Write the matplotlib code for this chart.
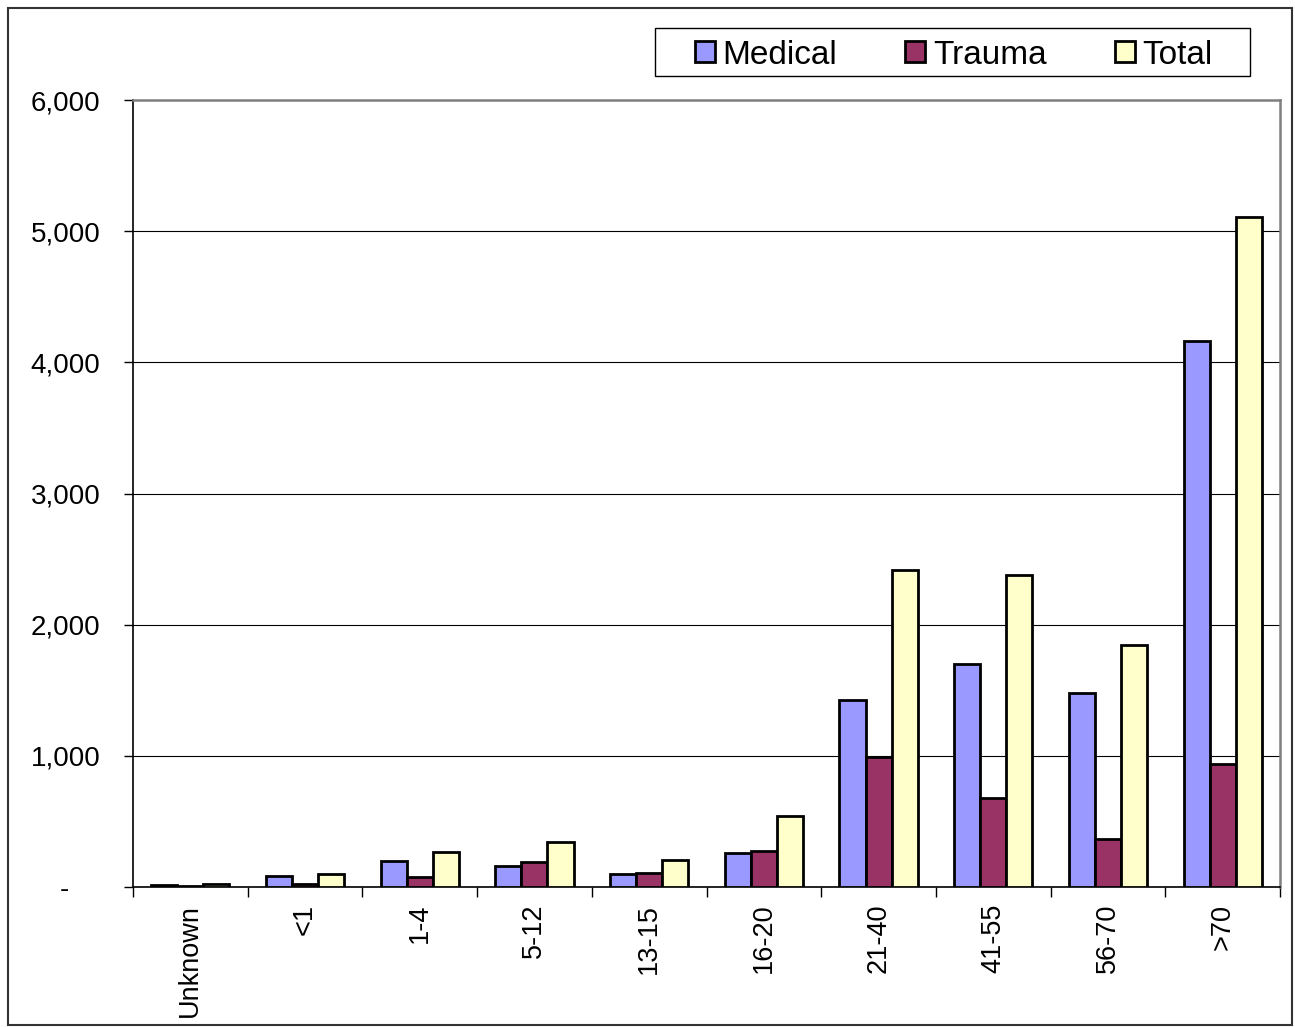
import matplotlib
matplotlib.use("Agg")
import matplotlib.pyplot as plt
from matplotlib.patches import Rectangle
from matplotlib.ticker import FuncFormatter, FixedLocator
import numpy as np

plt.rcParams['font.family'] = ['Liberation Sans', 'DejaVu Sans']

categories = ["Unknown", "<1", "1-4", "5-12", "13-15", "16-20", "21-40", "41-55", "56-70", ">70"]
medical = [15, 84, 198, 160, 99, 259, 1426, 1700, 1479, 4163]
trauma = [5, 23, 76, 190, 107, 274, 991, 679, 366, 938]
total = [20, 99, 267, 343, 206, 541, 2417, 2379, 1845, 5108]
series_names = ["Medical", "Trauma", "Total"]
colors = ["#9999FF", "#993366", "#FFFFCC"]
yticks = [0, 1000, 2000, 3000, 4000, 5000, 6000]

fig = plt.figure(figsize=(12.95, 10.27), dpi=100)
ax = fig.add_axes([133/1295, 1-887/1027, (1280-133)/1295, (887-100)/1027])

x = np.arange(len(categories))
w = 0.227
for i, (vals, name, c) in enumerate(zip([medical, trauma, total], series_names, colors)):
    ax.bar(x + (i-1)*w, vals, width=w, color=c, edgecolor='black', linewidth=2.0,
           label=name, zorder=3)

ax.set_xlim(-0.5, len(categories)-0.5)
ax.set_ylim(0, 6000)
ax.set_yticks(yticks)
ax.yaxis.set_major_formatter(FuncFormatter(lambda v, p: "-    " if v == 0 else f"{int(v):,}"))
ax.grid(axis='y', color='black', linewidth=0.8, zorder=0)
ax.set_axisbelow(True)

ax.set_xticks(x)
ax.set_xticklabels(categories, rotation=90, fontsize=19.5, va='top', ha='center')
ax.xaxis.set_minor_locator(FixedLocator(np.arange(-0.5, len(categories), 1.0)))
ax.tick_params(axis='x', which='major', length=0, pad=12)
ax.tick_params(axis='x', which='minor', length=7, width=1, color='black', direction='out')
ax.tick_params(axis='y', which='major', length=6.5, width=1, labelsize=20, pad=17)

for s in ['left', 'bottom']:
    ax.spines[s].set_color('black')
    ax.spines[s].set_linewidth(1.2)
for s in ['top', 'right']:
    ax.spines[s].set_color('#808080')
    ax.spines[s].set_linewidth(1.8)

leg = fig.legend(loc='center left', bbox_to_anchor=(695/1295, 1-55/1027), ncol=3,
                 fontsize=24, frameon=False,
                 handlelength=0.6, handleheight=0.6, handletextpad=0.22,
                 columnspacing=2.05, borderpad=0, borderaxespad=0)
for h in leg.legend_handles:
    h.set_linewidth(2.0)

# legend frame
fig.patches.append(Rectangle((655/1295, 1-76/1027), (1250-655)/1295, (76-28)/1027,
                             transform=fig.transFigure, fill=True, facecolor='white',
                             edgecolor='black', linewidth=1.0, zorder=0))

# outer chart border
fig.patches.append(Rectangle((8/1295, 1-1025/1027), (1292-8)/1295, (1025-8)/1027,
                             transform=fig.transFigure, fill=False,
                             edgecolor='#333333', linewidth=1.5))

fig.savefig("out.png", dpi=100)
